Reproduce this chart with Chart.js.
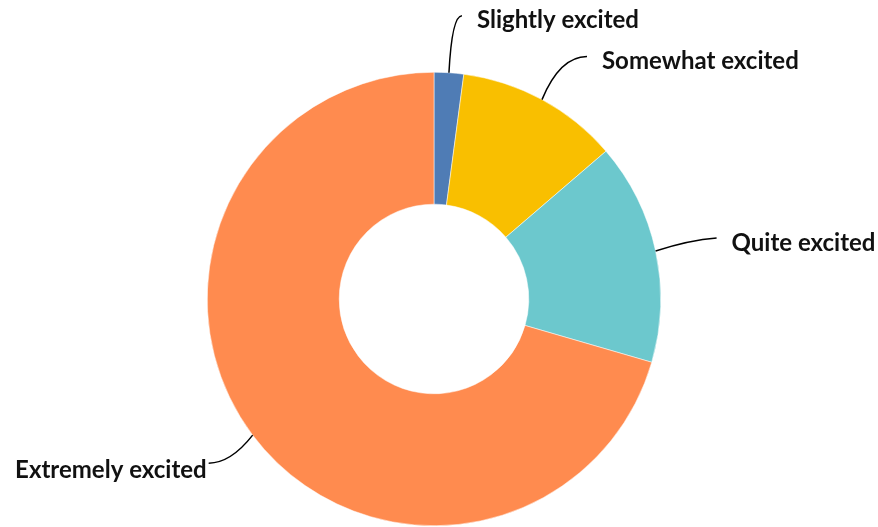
<!DOCTYPE html>
<html>
<head>
<meta charset="utf-8">
<script src="https://cdn.jsdelivr.net/npm/chart.js"></script>
<style>
  html, body { margin: 0; padding: 0; background: #fff; }
  #wrap { width: 878px; height: 527px; position: relative; }
</style>
</head>
<body>
<div id="wrap"><canvas id="excitedChart"></canvas></div>
<script>
// data (share of answers, %)
const categories = ['Slightly excited', 'Somewhat excited', 'Quite excited', 'Extremely excited'];
const shares = [2.1, 11.6, 15.8, 70.5];
const colors = ['#4f7cb5', '#f9bf00', '#6cc8cd', '#ff8b4f'];

// where each leader line ends, relative to the slice's outer midpoint
const leaderEnds = [[13, -57], [45, -43], [61, -13], [-44, 28]];
const leaderBend = [[3, 0], [18, 0], [34, 2], [-22, 0]];

const labelFont = '700 24px Lato';

const leaderLabels = {
    id: 'leaderLabels',
    afterDatasetsDraw(chart) {
        const ctx = chart.ctx;
        const arcs = chart.getDatasetMeta(0).data;
        ctx.save();
        ctx.font = labelFont;
        ctx.textBaseline = 'middle';
        arcs.forEach((arc, i) => {
            const mid = (arc.startAngle + arc.endAngle) / 2;
            const ax = arc.x + Math.cos(mid) * arc.outerRadius;
            const ay = arc.y + Math.sin(mid) * arc.outerRadius;
            const ex = ax + leaderEnds[i][0];
            const ey = ay + leaderEnds[i][1];
            const cx = ax + leaderBend[i][0];
            const cy = ey + leaderBend[i][1];

            ctx.beginPath();
            ctx.moveTo(ax, ay);
            ctx.quadraticCurveTo(cx, cy, ex, ey);
            ctx.strokeStyle = '#000';
            ctx.lineWidth = 1.5;
            ctx.stroke();

            ctx.fillStyle = '#111';
            if (ex > arc.x) {
                ctx.textAlign = 'left';
                ctx.fillText(categories[i], ex + 15, ey + 5);
            } else {
                ctx.textAlign = 'right';
                ctx.fillText(categories[i], ex - 2, ey + 7);
            }
        });
        ctx.restore();
    }
};

new Chart(document.getElementById('excitedChart'), {
    type: 'doughnut',
    data: {
        labels: categories,
        datasets: [{
            data: shares,
            backgroundColor: colors,
            borderColor: '#ffffff',
            borderWidth: 0.5
        }]
    },
    options: {
        responsive: true,
        maintainAspectRatio: false,
        animation: false,
        cutout: '41.8%',
        layout: { padding: { top: 72, bottom: 1, left: 0, right: 10 } },
        plugins: {
            legend: { display: false },
            tooltip: { enabled: false }
        }
    },
    plugins: [leaderLabels]
});
</script>
</body>
</html>
